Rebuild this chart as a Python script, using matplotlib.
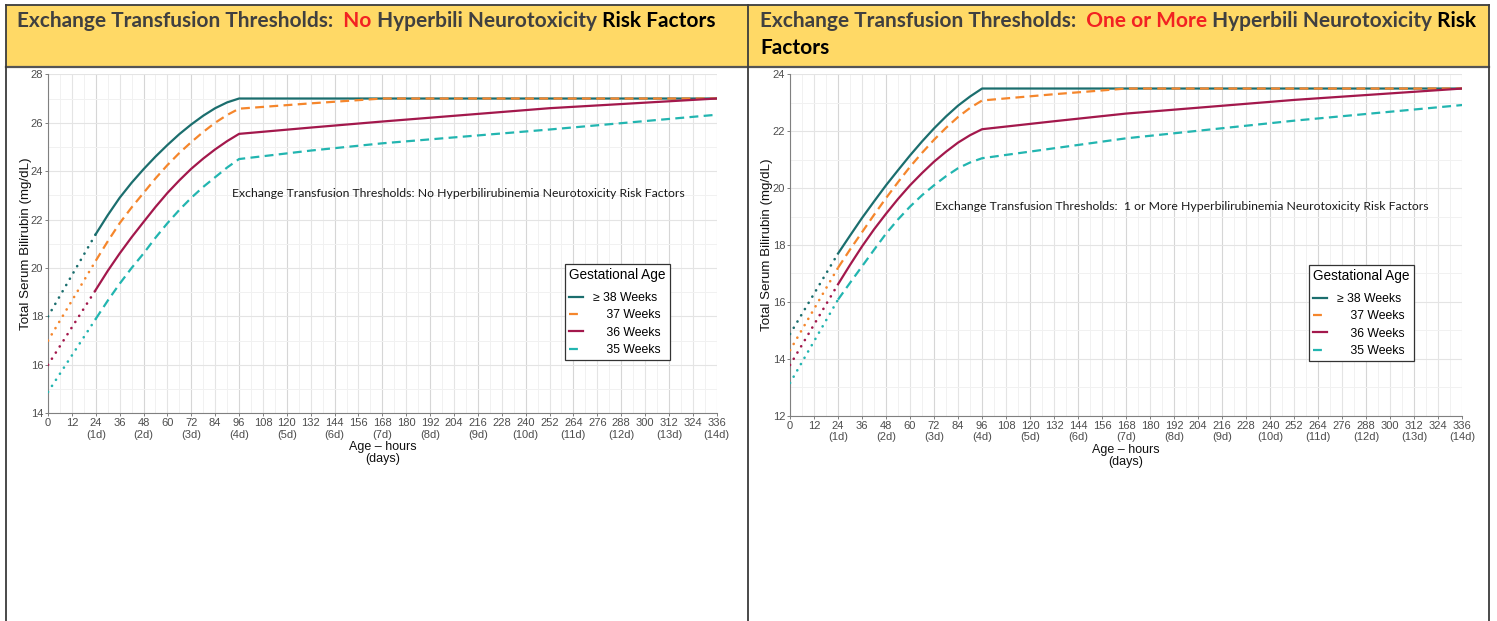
import matplotlib
matplotlib.use("Agg")
import matplotlib.pyplot as plt
from matplotlib.lines import Line2D
from matplotlib.patches import Rectangle
from matplotlib.ticker import MultipleLocator, FixedLocator

# ---------------- data ----------------
series_names = ["\u2265 38 Weeks", "37 Weeks", "36 Weeks", "35 Weeks"]
series_colors = ["#1b6e6e", "#f5862c", "#a3184c", "#22b5b0"]
series_styles = ["solid", "dashed", "solid", "dashed"]

hours_early = [0, 24]
hours_main = [24, 30, 36, 42, 48, 54, 60, 66, 72, 78, 84, 90, 96, 132, 168, 252, 336]

# No hyperbilirubinemia neurotoxicity risk factors
no_risk_early = [
    [18.0, 21.4],
    [17.0, 20.3],
    [16.0, 19.1],
    [14.88, 17.9],
]
no_risk_main = [
    [21.4, 22.18, 22.9, 23.52, 24.08, 24.6, 25.08, 25.53, 25.93, 26.29, 26.6, 26.84, 27.0,
     27.0, 27.0, 27.0, 27.0],
    [20.3, 21.1, 21.85, 22.5, 23.1, 23.7, 24.25, 24.75, 25.2, 25.62, 26.0, 26.32, 26.58,
     26.8, 27.0, 27.0, 27.0],
    [19.1, 19.88, 20.6, 21.27, 21.9, 22.52, 23.1, 23.62, 24.1, 24.52, 24.9, 25.24, 25.54,
     25.8, 26.05, 26.6, 27.0],
    [17.9, 18.65, 19.35, 20.0, 20.6, 21.25, 21.85, 22.4, 22.9, 23.35, 23.75, 24.15, 24.5,
     24.85, 25.15, 25.72, 26.33],
]

# One or more risk factors
risk_early = [
    [14.87, 17.7],
    [14.3, 17.2],
    [13.78, 16.62],
    [13.15, 16.08],
]
risk_main = [
    [17.7, 18.33, 18.95, 19.53, 20.1, 20.63, 21.15, 21.64, 22.1, 22.52, 22.9, 23.22, 23.5,
     23.5, 23.5, 23.5, 23.5],
    [17.2, 17.84, 18.45, 19.06, 19.65, 20.21, 20.75, 21.24, 21.7, 22.12, 22.5, 22.82, 23.08,
     23.3, 23.5, 23.5, 23.5],
    [16.62, 17.3, 17.95, 18.55, 19.1, 19.62, 20.1, 20.53, 20.93, 21.28, 21.6, 21.86, 22.07,
     22.35, 22.62, 23.1, 23.5],
    [16.08, 16.67, 17.25, 17.83, 18.4, 18.9, 19.35, 19.75, 20.1, 20.42, 20.7, 20.9, 21.05,
     21.4, 21.75, 22.37, 22.92],
]

x_ticks = list(range(0, 337, 12))
x_tick_labels = [f"{h}\n({h // 24}d)" if (h % 24 == 0 and h > 0) else f"{h}" for h in x_ticks]

# ---------------- figure ----------------
W, H = 1497, 621
fig = plt.figure(figsize=(W / 100, H / 100), dpi=100)
fig.patch.set_facecolor("white")


def fx(px):
    return px / W


def fy(py):
    return 1 - py / H


# table frame / header
fig.add_artist(Rectangle((fx(6), fy(66)), fx(1489) - fx(6), fy(5) - fy(66),
                         transform=fig.transFigure, facecolor="#FFD966",
                         edgecolor="none", zorder=0))
border = "#3c3c3c"
fig.add_artist(Line2D([fx(6), fx(1489)], [fy(5), fy(5)], transform=fig.transFigure, color=border, lw=1.3))
fig.add_artist(Line2D([fx(6), fx(1489)], [fy(66.5), fy(66.5)], transform=fig.transFigure, color="#555555", lw=1.6))
for xp in (6, 748, 1489):
    fig.add_artist(Line2D([fx(xp), fx(xp)], [fy(5), 0], transform=fig.transFigure, color=border, lw=1.3))

renderer = fig.canvas.get_renderer()


def header_line(x_px, y_px, segments, size=15.0):
    x = x_px
    for txt, col in segments:
        t = fig.text(fx(x), fy(y_px), txt, color=col, fontsize=size, fontweight="bold",
                     family=["Lato", "DejaVu Sans"], va="center", ha="left")
        bb = t.get_window_extent(renderer=renderer)
        x += bb.width


dark = "#404040"
red = "#f22222"
header_line(17, 21, [("Exchange Transfusion Thresholds:", dark), ("  No", red),
                     (" Hyperbili Neurotoxicity", dark), (" Risk Factors", "#000000")])
header_line(760, 21, [("Exchange Transfusion Thresholds:", dark), ("  One or More", red),
                      (" Hyperbili Neurotoxicity", dark), (" Risk", "#000000")])
header_line(760, 48, [("Factors", "#000000")])

TICKFONT = ["Liberation Sans", "DejaVu Sans"]
DASH = (0, (4, 2.4))
DOT = (0, (0.05, 2.7))


def draw_panel(ax, early, main, ylim, note, note_xy, leg_anchor):
    ax.set_xlim(0, 336)
    ax.set_ylim(*ylim)
    ax.set_facecolor("white")
    for s in ("top", "right"):
        ax.spines[s].set_visible(False)
    for s in ("left", "bottom"):
        ax.spines[s].set_color("#808080")
        ax.spines[s].set_linewidth(0.8)

    ax.xaxis.set_major_locator(FixedLocator(x_ticks))
    ax.set_xticklabels(x_tick_labels)
    ax.xaxis.set_minor_locator(MultipleLocator(6))
    ax.yaxis.set_major_locator(MultipleLocator(2))
    ax.yaxis.set_minor_locator(MultipleLocator(1))
    ax.tick_params(which="major", length=2.5, width=0.7, color="#808080",
                   labelcolor="#4d4d4d", labelsize=8.0, pad=1)
    ax.tick_params(which="minor", length=0)
    for lab in ax.get_xticklabels() + ax.get_yticklabels():
        lab.set_family(TICKFONT)
    ax.set_axisbelow(True)
    ax.grid(which="minor", color="#f1f1f1", lw=0.7)
    ax.grid(which="major", color="#e4e4e4", lw=0.8)
    for val, gl in zip(x_ticks, ax.xaxis.get_gridlines()):
        if val % 24 == 0:
            gl.set_color("#d6d6d6")

    order = [0, 2, 3, 1]  # orange last so its dashes show over the plateau
    for i in order:
        c = series_colors[i]
        ls = "-" if series_styles[i] == "solid" else DASH
        ax.plot(hours_early, early[i], color=c, lw=1.9, linestyle=DOT,
                dash_capstyle="round", zorder=3 + i)
        ax.plot(hours_main, main[i], color=c, lw=1.6, linestyle=ls, zorder=3 + i)

    handles = []
    for i in range(4):
        ls = "-" if series_styles[i] == "solid" else DASH
        handles.append(Line2D([], [], color=series_colors[i], lw=1.6, linestyle=ls))

    labels = ["\u2265 38 Weeks", "    37 Weeks", "    36 Weeks", "    35 Weeks"]
    leg = ax.legend(handles, labels, title="Gestational Age", loc="upper left",
                    bbox_to_anchor=leg_anchor, frameon=True, fancybox=False,
                    edgecolor="#333333", framealpha=1, borderpad=0.35,
                    handlelength=1.15, handletextpad=0.8, labelspacing=0.43,
                    prop={"family": TICKFONT, "size": 8.8},
                    title_fontproperties={"family": TICKFONT, "size": 9.8},
                    alignment="left", borderaxespad=0)
    leg.get_frame().set_linewidth(0.9)
    leg._legend_box.sep = 7.0

    ax.text(note_xy[0], note_xy[1], note, transform=ax.transAxes, ha="center", va="center",
            fontsize=8.85, family=["Lato", "DejaVu Sans"], color="#1a1a1a")

    ax.set_ylabel("Total Serum Bilirubin (mg/dL)", fontsize=9.6, family=TICKFONT, color="#111111")
    ax.set_xlabel("Age \u2013 hours\n(days)", fontsize=9.0, family=TICKFONT, color="#111111",
                  linespacing=1.0)


ax1 = fig.add_axes([fx(48), fy(413.3), fx(716.7) - fx(48), (413.3 - 74.3) / H])
ax2 = fig.add_axes([fx(790), fy(415.7), fx(1462.3) - fx(790), (415.7 - 74.3) / H])

draw_panel(ax1, no_risk_early, no_risk_main, (14, 28),
           "Exchange Transfusion Thresholds: No Hyperbilirubinemia Neurotoxicity Risk Factors",
           (0.613, 0.647), (0.773, 0.44))
draw_panel(ax2, risk_early, risk_main, (12, 24),
           "Exchange Transfusion Thresholds:  1 or More Hyperbilirubinemia Neurotoxicity Risk Factors",
           (0.583, 0.614), (0.772, 0.441))

ax1.yaxis.set_label_coords(-0.0244, 0.5)
ax2.yaxis.set_label_coords(-0.0253, 0.5)
ax1.xaxis.set_label_coords(0.5, -0.083)
ax2.xaxis.set_label_coords(0.5, -0.083)

fig.savefig("out.png", dpi=100, facecolor="white")
